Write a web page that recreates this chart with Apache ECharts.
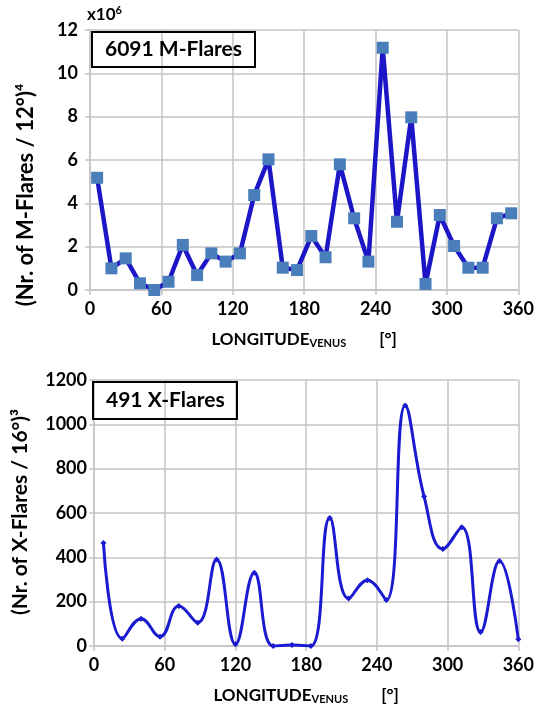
<!DOCTYPE html>
<html><head><meta charset="utf-8">
<script src="https://cdn.jsdelivr.net/npm/echarts@6/dist/echarts.min.js"></script>
<style>html,body{margin:0;padding:0;background:#fff}#c{width:537px;height:706px}</style>
</head><body><div id="c"></div>
<script>
// M-flares (top), 12° bins, values in units of 10^6
const mLon = [6,18,30,42,54,66,78,90,102,114,126,138,150,162,174,186,198,210,222,234,246,258,270,282,294,306,318,330,342,354];
const mVal = [5.18,1.0,1.46,0.31,0.0,0.38,2.08,0.69,1.69,1.31,1.69,4.38,6.03,1.03,0.92,2.49,1.51,5.8,3.31,1.31,11.18,3.15,7.97,0.28,3.46,2.03,1.03,1.03,3.31,3.54];
// X-flares (bottom), 16° bins
const xLon = [8,24,40,56,72,88,104,120,136,152,168,184,200,216,232,248,264,280,296,312,328,344,360];
const xVal = [465,33,123,42,180,105,390,8,330,0,4,0,577,214,297,207,1085,675,438,536,63,383,30];
const xTicks = [0,60,120,180,240,300,360];
const mTicks = [0,2,4,6,8,10,12];
const xfTicks = [0,200,400,600,800,1000,1200];

const FONT = 'Lato';
const chart = echarts.init(document.getElementById('c'), null, {renderer:'canvas'});
const gridLine = {show:true, lineStyle:{color:'#c4c4c4', width:1.5}};
const axLine = {show:true, lineStyle:{color:'#c4c4c4', width:1.5}};
const tick = {show:true, length:5, lineStyle:{color:'#c4c4c4', width:1.5}};
const lbl = {color:'#000', fontFamily:FONT, fontWeight:'bold', fontSize:18};
const xName = {
  rich:{
    a:{fontFamily:FONT, fontWeight:'bold', fontSize:17, color:'#000'},
    s:{fontFamily:FONT, fontWeight:'bold', fontSize:11, color:'#000', verticalAlign:'bottom', padding:[8,0,0,0]}
  }
};
function xAxisCfg(gi){
  return {type:'value', gridIndex:gi, min:0, max:360, interval:60,
    axisLine:axLine, axisTick:tick, splitLine:gridLine,
    axisLabel:Object.assign({margin:10, formatter:v=>String(v)}, lbl),
    name:'{a|LONGITUDE}{s|VENUS}{a|        [°]}', nameLocation:'middle', nameGap:40,
    nameTextStyle:xName};
}
chart.setOption({
  animation:false,
  title:[
    {text:'6091 M-Flares', left:92, top:32, borderColor:'#000', borderWidth:2, padding:[7,13,7,13],
     textStyle:{fontFamily:FONT, fontWeight:'bold', fontSize:21, color:'#000'}},
    {text:'491 X-Flares', left:93, top:382, borderColor:'#000', borderWidth:2, padding:[8,13,8,13],
     textStyle:{fontFamily:FONT, fontWeight:'bold', fontSize:21, color:'#000'}}
  ],
  graphic:[
    {type:'text', left:87, top:5, style:{text:'{a|x10}{s|6}', rich:{
      a:{fontFamily:FONT, fontWeight:'bold', fontSize:17, fill:'#000'},
      s:{fontFamily:FONT, fontWeight:'bold', fontSize:11, fill:'#000', verticalAlign:'top', padding:[0,0,8,0]}}}},
    {type:'text', rotation:Math.PI/2, x:26, y:195, style:{text:'(Nr. of M-Flares / 12°)⁴', align:'center', verticalAlign:'middle',
      fontFamily:FONT, fontWeight:'bold', fontSize:22, fill:'#000'}},
    {type:'text', rotation:Math.PI/2, x:20, y:512, style:{text:'(Nr. of X-Flares / 16°)³', align:'center', verticalAlign:'middle',
      fontFamily:FONT, fontWeight:'bold', fontSize:21, fill:'#000'}}
  ],
  grid:[
    {left:90, right:12, top:30, height:260},
    {left:94, right:12, top:380, height:267}
  ],
  xAxis:[xAxisCfg(0), xAxisCfg(1)],
  yAxis:[
    {type:'value', gridIndex:0, min:0, max:12, interval:2, axisLine:axLine, axisTick:tick, splitLine:gridLine,
     axisLabel:Object.assign({margin:12, formatter:v=>String(v)}, lbl)},
    {type:'value', gridIndex:1, min:0, max:1200, interval:200, axisLine:axLine, axisTick:tick, splitLine:gridLine,
     axisLabel:Object.assign({margin:7, formatter:v=>String(v)}, lbl)}
  ],
  series:[
    {type:'line', xAxisIndex:0, yAxisIndex:0, data:mLon.map((x,i)=>[x,mVal[i]]),
     symbol:'rect', symbolSize:12, lineStyle:{color:'#1c16c6', width:4.5},
     itemStyle:{color:'#4a7ebb', borderWidth:0}, z:3},
    {type:'line', xAxisIndex:1, yAxisIndex:1, data:xLon.map((x,i)=>[x,xVal[i]]),
     smooth:0.45, symbol:'diamond', symbolSize:6, lineStyle:{color:'#1a1ad0', width:3},
     itemStyle:{color:'#1a1ad0'}}
  ]
});
</script></body></html>
